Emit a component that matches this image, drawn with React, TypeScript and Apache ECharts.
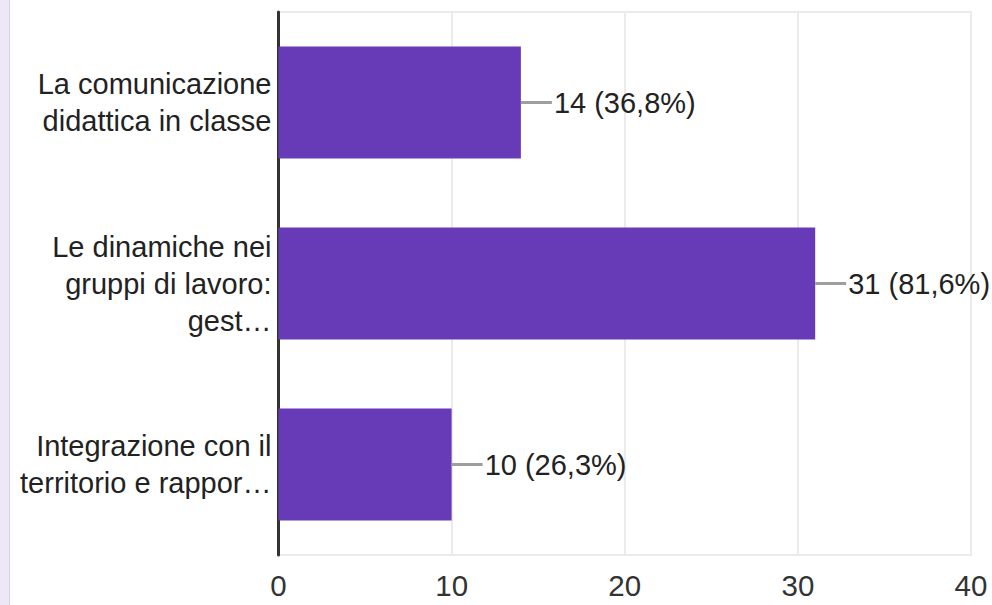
import React, { useEffect, useRef } from "react";
import * as echarts from "echarts";

const categories = [
  "La comunicazione\ndidattica in classe",
  "Le dinamiche nei\ngruppi di lavoro:\ngest…",
  "Integrazione con il\nterritorio e rappor…",
];
const counts = [14, 31, 10];
const respondents = 38;
const xTicks = [0, 10, 20, 30, 40];

const FONT = "'Liberation Sans', Arial, Helvetica, sans-serif";

export default function App() {
  const ref = useRef<HTMLDivElement>(null);
  useEffect(() => {
    if (!ref.current) return;
    const chart = echarts.init(ref.current, undefined, { renderer: "svg" });
    const pct = (v: number) =>
      ((v / respondents) * 100).toFixed(1).replace(".", ",") + "%";
    chart.setOption({
      animation: false,
      textStyle: { fontFamily: FONT },
      grid: {
        left: 278.5,
        right: 21,
        top: 12,
        bottom: 50,
        show: true,
        borderColor: "#ebebeb",
        borderWidth: 2,
        containLabel: false,
      },
      xAxis: {
        type: "value",
        min: xTicks[0],
        max: xTicks[xTicks.length - 1],
        interval: 10,
        axisLine: { show: false },
        axisTick: { show: false },
        splitLine: { show: true, lineStyle: { color: "#ebebeb", width: 2 } },
        axisLabel: {
          fontSize: 29.5,
          color: "#333",
          margin: 15,
          fontFamily: FONT,
        },
      },
      yAxis: {
        type: "category",
        data: categories,
        inverse: true,
        axisLine: { show: true, lineStyle: { color: "#333", width: 3 } },
        axisTick: { show: false },
        splitLine: { show: false },
        axisLabel: {
          fontSize: 29,
          lineHeight: 37,
          color: "#222",
          margin: 7,
          align: "right",
          fontFamily: FONT,
        },
      },
      series: [
        {
          type: "bar",
          data: counts,
          barWidth: 112,
          itemStyle: { color: "#673ab7" },
          label: {
            show: true,
            position: "right",
            distance: 0,
            formatter: (p: any) => `{l|}{t|${p.value} (${pct(p.value)})}`,
            rich: {
              l: {
                width: 31,
                height: 3,
                backgroundColor: "#9e9e9e",
                verticalAlign: "middle",
              },
              t: {
                fontSize: 29,
                color: "#222",
                fontFamily: FONT,
                padding: [0, 0, 0, 2],
                verticalAlign: "middle",
              },
            },
          },
        },
      ],
    });
    return () => chart.dispose();
  }, []);
  return (
    <div
      style={{
        position: "fixed",
        left: 0,
        top: 0,
        width: 992,
        height: 605,
        background: "#fff",
      }}
    >
      <div
        style={{
          position: "absolute",
          left: 0,
          top: 0,
          width: 9,
          height: 605,
          background: "#ede7f6",
          borderRight: "1px solid #d9d0ea",
        }}
      />
      <div
        ref={ref}
        style={{ position: "absolute", left: 0, top: 0, width: 992, height: 605 }}
      />
    </div>
  );
}
